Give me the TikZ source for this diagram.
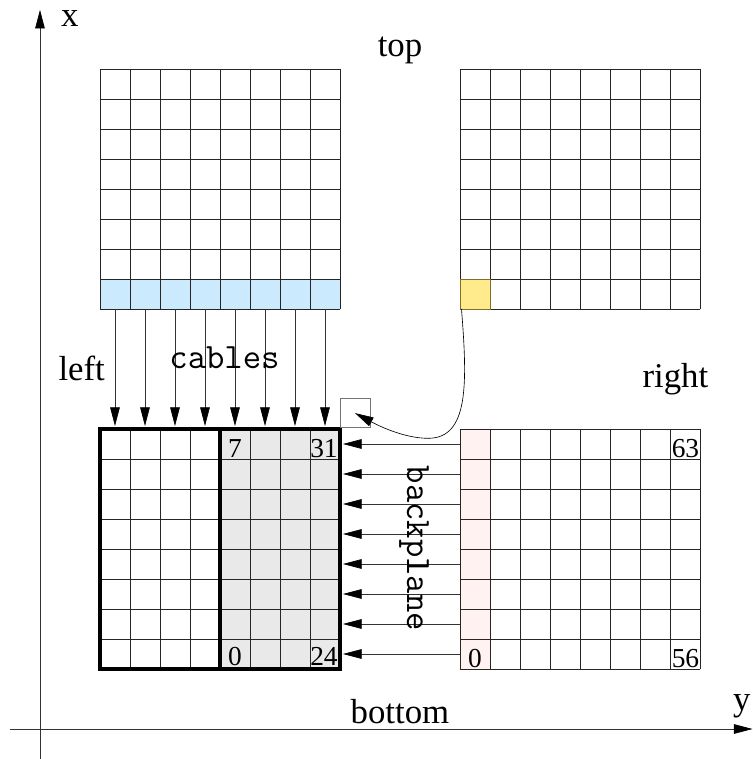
\documentclass[tikz,border=0pt]{standalone}
\usepackage{fontspec}
\setmainfont{Liberation Serif}
\usetikzlibrary{arrows.meta, positioning}

\definecolor{cablefill}{RGB}{204,234,254}
\definecolor{hotfill}{RGB}{255,234,140}
\definecolor{hotedge}{RGB}{130,110,40}
\definecolor{plainfill}{RGB}{255,242,240}
\definecolor{boardfill}{RGB}{233,233,233}

\tikzset{
  gridline/.style={line width=0.7pt, black!85},
  boardedge/.style={line width=3.8pt, black},
  wire/.style={->, line width=0.6pt, black!80},
  lbl/.style={font=\fontsize{33}{36}\selectfont, inner sep=0pt},
  ttlbl/.style={font=\ttfamily\fontsize{33.8}{36}\selectfont, inner sep=0pt},
  num/.style={font=\fontsize{26}{28}\selectfont, inner sep=0pt}
}

\begin{document}
\begin{tikzpicture}[x=1cm, y=1cm, >={Triangle[length=0.62cm, width=0.32cm, black]}]
        \useasboundingbox (-1.333,-1) rectangle (23.767,24.3);
        % 坐标轴
        \draw[wire] (-1,0) -- (23.75,0);
        \draw[wire] (0,-1) -- (0,23.97);
        \node[lbl, anchor=base west] (xlabel) at (0.7,23.4) {x};
        \node[lbl, anchor=base west] (ylabel) at (23.1,0.62) {y};

        % 1. top 板
        \fill[cablefill] (2,14) rectangle (10,15);
        \draw[gridline] (2,14) grid (10,22);
        \node[lbl, anchor=base] (toplabel) at (12,22.41) {top};

        % 2. right 板 (上方)
        \fill[hotfill] (14,14) rectangle (15,15);
        \draw[gridline] (14,14) grid (22,22);
        \draw[line width=0.8pt, hotedge] (14,14) rectangle (15,15);
        \coordinate (hot) at (14.05,14);

        % 3. bottom 板 (左下)
        \fill[boardfill] (6,2) rectangle (10,10);
        \draw[gridline] (2,2) grid (10,10);
        \draw[boardedge] (2,2) rectangle (10,10);
        \draw[boardedge] (6,2) -- (6,10);
        \node[num, anchor=base] (n7) at (6.5,9.05) {7};
        \node[num, anchor=base east] (n31) at (9.93,9.05) {31};
        \node[num, anchor=base] (n0) at (6.5,2.12) {0};
        \node[num, anchor=base east] (n24) at (9.93,2.12) {24};
        \node[draw=black!55, line width=0.7pt, minimum width=1cm, minimum height=0.95cm, inner sep=0pt] (slot) at (10.5,10.53) {};

        % 4. 右下板
        \fill[plainfill] (14,2) rectangle (15,10);
        \draw[gridline] (14,2) grid (22,10);
        \node[num, anchor=base] (m0) at (14.5,2.05) {0};
        \node[num, anchor=base east] (m63) at (21.98,9.05) {63};
        \node[num, anchor=base east] (m56) at (21.98,2.05) {56};

        % cables: top -> bottom
        \foreach \i in {0,...,7}
            \draw[wire] (\i+2.5,14) -- (\i+2.5,10.1);
        \node[ttlbl, anchor=base] (cables) at (6.15,12.02) {cables};
        \node[lbl, anchor=base] (leftlabel) at (1.39,11.61) {left};

        % backplane: right -> bottom
        \foreach \i in {0,...,7}
            \draw[wire] (14,\i+2.5) -- (10.1,\i+2.5);
        \node[ttlbl, rotate=-90] (backplane) at (12.47,6.02) {backplane};
        \node[lbl, anchor=base] (rightlabel) at (21.18,11.37) {right};
        \node[lbl, anchor=base] (bottomlabel) at (12,0.19) {bottom};

        % 黄格 -> slot
        \coordinate (bend) at (12.94,9.69);
        \draw[wire, black] (hot) .. controls +(0.2,-2.5) and +(1.35,0) .. (bend)
            .. controls +(-0.75,0) and +(0.9,-0.48) .. (slot.center);
    \end{tikzpicture}
\end{document}
